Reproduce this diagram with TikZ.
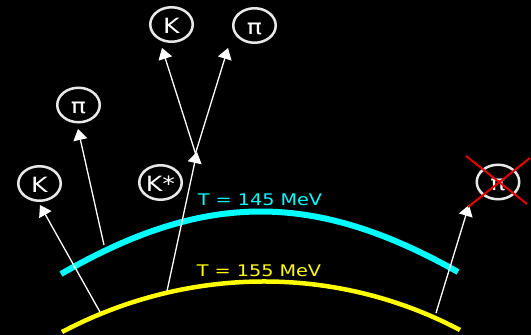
\documentclass[tikz,border=0pt]{standalone}
\usepackage{fontspec}
\setmainfont{DejaVu Sans}
\usetikzlibrary{arrows.meta,shapes.geometric,calc}
\definecolor{ringgray}{RGB}{232,232,232}
\definecolor{fcyan}{RGB}{0,255,255}
\definecolor{fyellow}{RGB}{255,255,0}
\definecolor{fred}{RGB}{230,0,0}
\begin{document}
\begin{tikzpicture}[x=1pt,y=-1pt,
  particle/.style={draw=ringgray, line width=2.5pt, ellipse, minimum width=42.5pt, minimum height=34.5pt,
    inner sep=0pt, text=white, font=\fontsize{21}{21}\selectfont, text height=17.5pt, text depth=0pt},
  track/.style={draw=white, line width=1.3pt, -{Triangle[length=11pt,width=14pt]}},
  cyanring/.style={draw=fcyan, line width=6pt},
  yellowring/.style={draw=fyellow, line width=4.5pt},
  templabel/.style={anchor=base, inner sep=0pt, font=\fontsize{16}{16}\selectfont},
  veto/.style={draw=fred, line width=2pt}]
\fill[black] (0,0) rectangle (531,335);
\useasboundingbox (0,0) rectangle (531,335);

% freeze-out surfaces
\draw[cyanring] (61,274) .. controls (205,191) and (314,191) .. (458,272);
\draw[yellowring] (62,332) .. controls (187,266) and (335,264) .. (460,330);
\node[templabel, text=fcyan] (t145) at (260,205) {\scalebox{1.2}[1]{T = 145 MeV}};
\node[templabel, text=fyellow] (t155) at (259,276) {\scalebox{1.2}[1]{T = 155 MeV}};

% particles
\node[particle] (Ktop) at (171.5,24.5) {\scalebox{1.2}[1]{K}};
\node[particle] (PItop) at (254.5,25.5) {\scalebox{1.2}[1]{π}};
\node[particle] (PImid) at (78.5,105) {\scalebox{1.2}[1]{π}};
\node[particle] (Kleft) at (39.5,183.5) {\scalebox{1.2}[1]{K}};
\node[particle] (Kstar) at (160.5,182.5) {\scalebox{1.2}[1]{K*}};
\node[particle] (PIright) at (498,182) {\scalebox{1.2}[1]{π}};

% emission points and track ends
\coordinate (sK) at (100,312);
\coordinate (tK) at (40,205);
\coordinate (sPI) at (104,245);
\coordinate (tPI) at (78,129);
\coordinate (sKs) at (167,291);
\coordinate (V) at (197,152);
\coordinate (VK) at (196,155);
\coordinate (VP) at (195,155);
\coordinate (tKt) at (162,48);
\coordinate (tPIt) at (228,48);
\coordinate (sR) at (436,313);
\coordinate (tR) at (469,205);

\draw[track] (sK) -- (tK);
\draw[track] (sPI) -- (tPI);
\draw[track] (sKs) -- (V);
\draw[track] (VK) -- (tKt);
\draw[track] (VP) -- (tPIt);
\draw[track] (sR) -- (tR);

% vetoed pion
\coordinate (x1a) at (466,156);
\coordinate (x1b) at (527,204);
\coordinate (x2a) at (530,158);
\coordinate (x2b) at (468,207);
\draw[veto] (x1a) -- (x1b);
\draw[veto] (x2a) -- (x2b);
\end{tikzpicture}
\end{document}
